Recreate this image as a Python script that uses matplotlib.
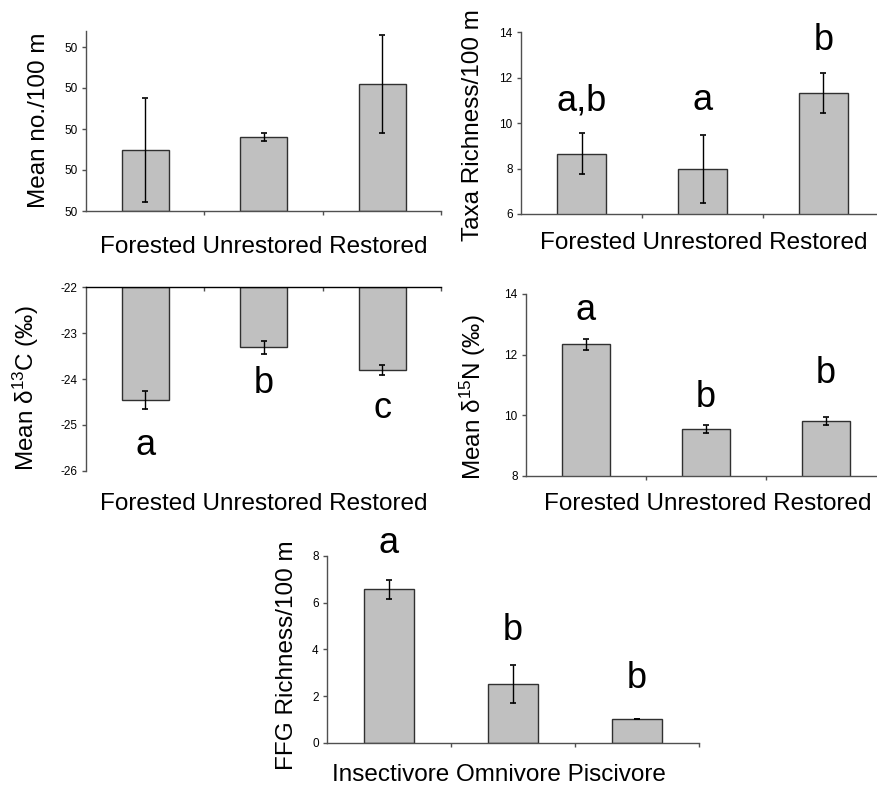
import numpy as np
import matplotlib
matplotlib.use('Agg')
import matplotlib.pyplot as plt

plt.rcParams['font.family'] = ['Liberation Sans', 'DejaVu Sans']
plt.rcParams['mathtext.default'] = 'regular'
plt.rcParams['axes.unicode_minus'] = False

W, H = 878, 787

sites = ['Forested', 'Unrestored', 'Restored']
guilds = ['Insectivore', 'Omnivore', 'Piscivore']

# abundance (axis labels in the source are all "50")
abund_mean = [1.49, 1.80, 3.10]
abund_err = [1.26, 0.10, 1.20]
abund_ticks = [0, 1, 2, 3, 4]
abund_ticklabels = ['50', '50', '50', '50', '50']

taxa_mean = [8.65, 8.0, 11.33]
taxa_err = [0.9, 1.5, 0.9]
taxa_letters = ['a,b', 'a', 'b']
taxa_letter_y = [10.57, 10.57, 13.2]

d13c_mean = [-24.46, -23.31, -23.81]
d13c_err = [0.2, 0.14, 0.11]
d13c_letters = ['a', 'b', 'c']
d13c_letter_y = [-25.66, -24.31, -24.86]

d15n_mean = [12.35, 9.55, 9.82]
d15n_err = [0.18, 0.12, 0.13]
d15n_letters = ['a', 'b', 'b']
d15n_letter_y = [13.14, 10.28, 11.06]

ffg_mean = [6.57, 2.50, 1.0]
ffg_err = [0.41, 0.81, 0.0]
ffg_letters = ['a', 'b', 'b']
ffg_letter_y = [8.12, 4.40, 2.33]

BAR = '#C0C0C0'
EDGE = '#303030'
AXC = '#505050'
LABEL_FS = 17.5
LETTER_FS = 26
TICK_FS = 8.5

fig = plt.figure(figsize=(W / 100, H / 100), dpi=100)


def panel(left, top, right, bottom):
    ax = fig.add_axes([left / W, 1 - bottom / H, (right - left) / W, (bottom - top) / H])
    for s in ['top', 'right']:
        ax.spines[s].set_visible(False)
    for s in ['left', 'bottom']:
        ax.spines[s].set_color(AXC)
        ax.spines[s].set_linewidth(1)
    ax.tick_params(axis='both', direction='out', length=3, width=1, color=AXC,
                   labelsize=TICK_FS, pad=3)
    ax.set_xticks([0.5, 1.5, 2.5])
    ax.set_xticklabels([])
    ax.set_facecolor('none')
    return ax


def bars(ax, mean, err, base=0):
    x = np.arange(len(mean))
    heights = [m - base for m in mean]
    ax.bar(x, heights, bottom=base, width=0.4, color=BAR, edgecolor=EDGE, linewidth=1, zorder=2)
    ax.errorbar(x, mean, yerr=err, fmt='none', ecolor='black', elinewidth=1,
                capsize=2.5, capthick=1.2, zorder=3)


def letters(ax, labels, ys):
    for i, (t, y) in enumerate(zip(labels, ys)):
        ax.text(i, y, t, ha='center', va='baseline', fontsize=LETTER_FS, clip_on=False)


def xlabel(text, cx, by):
    fig.text(cx / W, 1 - by / H, text, ha='center', va='baseline', fontsize=LABEL_FS)


def ylabel(text, bx, cy):
    fig.text(bx / W, 1 - cy / H, text, ha='center', va='baseline', rotation=90,
             rotation_mode='anchor', fontsize=LABEL_FS)


# top left
ax1 = panel(86, 30.6, 441.5, 211)
bars(ax1, abund_mean, abund_err)
ax1.set_xlim(-0.5, 2.5)
ax1.set_ylim(0, 4.4)
ax1.set_yticks(abund_ticks)
ax1.set_yticklabels(abund_ticklabels)
ylabel('Mean no./100 m', 45, 120)
xlabel(' '.join(sites), 263.5, 253)

# top right
ax2 = panel(521, 32.3, 878, 214)
bars(ax2, taxa_mean, taxa_err)
ax2.set_xlim(-0.5, -0.5 + 357 / 121)
ax2.set_ylim(6, 14)
ax2.set_yticks([6, 8, 10, 12, 14])
letters(ax2, taxa_letters, taxa_letter_y)
ylabel('Taxa Richness/100 m', 479, 125)
xlabel(' '.join(sites), 704, 249)

# middle left, bars hang from -22
ax3 = panel(86, 287.3, 441.5, 470.7)
bars(ax3, d13c_mean, d13c_err, base=-22)
ax3.set_xlim(-0.5, 2.5)
ax3.set_ylim(-26, -22)
ax3.set_yticks([-26, -25, -24, -23, -22])
ax3.spines['bottom'].set_position(('data', -22))
ax3.spines['bottom'].set_color('black')
letters(ax3, d13c_letters, d13c_letter_y)
ylabel('Mean δ$^{13}$C (‰)', 33.5, 388)
xlabel(' '.join(sites), 264, 510)

# middle right
ax4 = panel(526, 294, 878, 476)
bars(ax4, d15n_mean, d15n_err)
ax4.set_xlim(-0.5, -0.5 + 352 / 120)
ax4.set_ylim(8, 14)
ax4.set_yticks([8, 10, 12, 14])
letters(ax4, d15n_letters, d15n_letter_y)
ylabel('Mean δ$^{15}$N (‰)', 481, 397)
xlabel(' '.join(sites), 708, 510)

# bottom
ax5 = panel(327, 556, 699, 742.7)
bars(ax5, ffg_mean, ffg_err)
ax5.set_xlim(-0.5, 2.5)
ax5.set_ylim(0, 8)
ax5.set_yticks([0, 2, 4, 6, 8])
letters(ax5, ffg_letters, ffg_letter_y)
ylabel('FFG Richness/100 m', 293, 655)
xlabel(' '.join(guilds), 499, 781)

fig.savefig('out.png', dpi=100, facecolor='white')
